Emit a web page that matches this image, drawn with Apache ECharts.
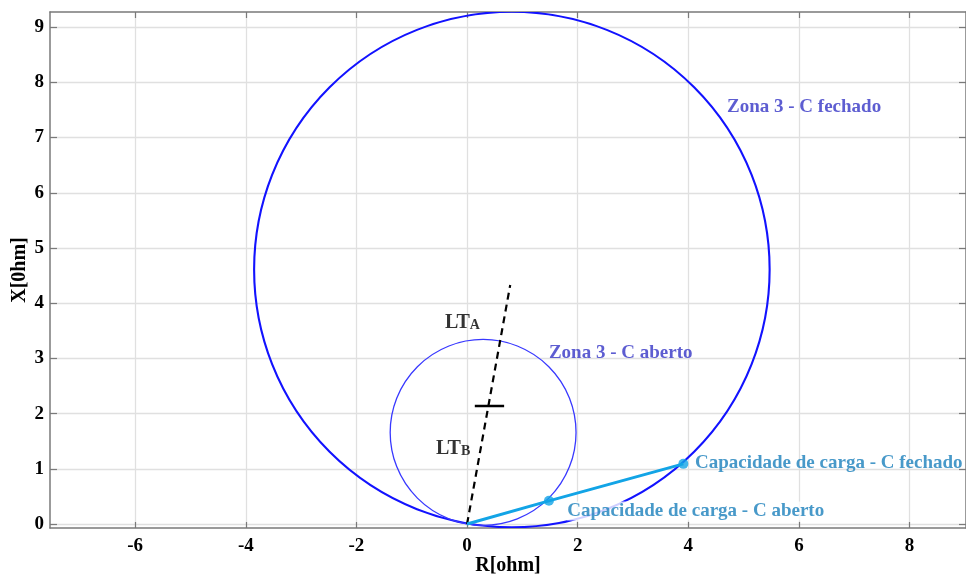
<!DOCTYPE html>
<html>
<head>
<meta charset="utf-8">
<script src="https://cdn.jsdelivr.net/npm/echarts@6/dist/echarts.min.js"></script>
<style>html,body{margin:0;padding:0;background:#fff;}#c{width:966px;height:574px;}</style>
</head>
<body>
<div id="c"></div>
<script>
// ---- data ----
const xTicks = [-6, -4, -2, 0, 2, 4, 6, 8];
const yTicks = [0, 1, 2, 3, 4, 5, 6, 7, 8, 9];
const xRange = [-7.54, 9.02];
const yRange = [-0.072, 9.275];
// circles: [centerR, centerX, radius]
const zonaFechado = [0.81, 4.61, 4.66];
const zonaAberto = [0.29, 1.66, 1.68];
// line LT (dashed) and its split mark
const ltLine = [[0, 0], [0.78, 4.33]];
const ltMark = [[0.14, 2.14], [0.67, 2.14]];
// load capacity line and points
const loadLine = [[0, 0], [1.48, 0.42], [3.91, 1.09]];
const loadPoints = [[1.48, 0.42], [3.91, 1.09]];
// annotations
const zonaLabels = [
  { value: [4.70, 7.55], text: 'Zona 3 - C fechado' },
  { value: [1.48, 3.10], text: 'Zona 3 - C aberto' }
];
const capLabels = [
  { value: [4.12, 1.105], text: 'Capacidade de carga - C fechado', bg: false },
  { value: [1.81, 0.235], text: 'Capacidade de carga - C aberto', bg: true }
];
const ltLabels = [
  { value: [-0.40, 3.64], sub: 'A' },
  { value: [-0.56, 1.36], sub: 'B' }
];

const FONT = "'Liberation Serif', 'Times New Roman', serif";
const axisColor = '#7a7a7a';

function circleSeries(c, color, width) {
  return {
    type: 'custom',
    coordinateSystem: 'cartesian2d',
    xAxisIndex: 0, yAxisIndex: 0,
    z: 3,
    clip: true,
    data: [c],
    renderItem: function (params, api) {
      const p = api.coord([api.value(0), api.value(1)]);
      const r = api.size([api.value(2), 0])[0];
      return {
        type: 'circle',
        shape: { cx: p[0], cy: p[1], r: r },
        style: { fill: 'none', stroke: color, lineWidth: width }
      };
    }
  };
}

const chart = echarts.init(document.getElementById('c'), null, { renderer: 'canvas' });
chart.setOption({
  animation: false,
  backgroundColor: '#fff',
  grid: { left: 50, right: 0, top: 12, bottom: 46, containLabel: false, outerBoundsMode: 'none' },
  xAxis: [{
    type: 'value', min: xRange[0], max: xRange[1],
    name: 'R[ohm]', nameLocation: 'middle', nameGap: 28, nameMoveOverlap: false,
    nameTextStyle: { fontFamily: FONT, fontWeight: 'bold', fontSize: 20, color: '#000' },
    axisLine: { onZero: false, lineStyle: { color: axisColor, width: 1.5 } },
    axisTick: { inside: true, length: 6, customValues: xTicks, lineStyle: { color: axisColor, width: 1.2 } },
    axisLabel: { customValues: xTicks, margin: 9, fontFamily: FONT, fontWeight: 'bold', fontSize: 19, color: '#000' },
    splitLine: { show: true, lineStyle: { color: '#e0e0e0', width: 1.3 } }
  }, {
    type: 'value', min: xRange[0], max: xRange[1], position: 'top',
    axisLine: { onZero: false, lineStyle: { color: axisColor, width: 1.5 } },
    axisTick: { inside: true, length: 6, customValues: xTicks, lineStyle: { color: axisColor, width: 1.2 } },
    axisLabel: { show: false },
    splitLine: { show: false }
  }],
  yAxis: [{
    type: 'value', min: yRange[0], max: yRange[1],
    name: 'X[0hm]', nameLocation: 'middle', nameGap: 20, nameMoveOverlap: false,
    nameTextStyle: { fontFamily: FONT, fontWeight: 'bold', fontSize: 20, color: '#000' },
    axisLine: { show: true, onZero: false, lineStyle: { color: axisColor, width: 1.5 } },
    axisTick: { show: true, inside: true, length: 7, customValues: yTicks, lineStyle: { color: axisColor, width: 1.2 } },
    axisLabel: { customValues: yTicks, margin: 6, fontFamily: FONT, fontWeight: 'bold', fontSize: 19, color: '#000' },
    splitLine: { show: true, lineStyle: { color: '#e0e0e0', width: 1.3 } }
  }, {
    type: 'value', min: yRange[0], max: yRange[1], position: 'right',
    axisLine: { show: true, onZero: false, lineStyle: { color: axisColor, width: 1.5 } },
    axisTick: { show: true, inside: true, length: 7, customValues: yTicks, lineStyle: { color: axisColor, width: 1.2 } },
    axisLabel: { show: false },
    splitLine: { show: false }
  }],
  series: [
    circleSeries(zonaFechado, '#1212ff', 2.1),
    circleSeries(zonaAberto, '#3838ff', 1.3),
    {
      type: 'line', data: ltLine, showSymbol: false, z: 4,
      lineStyle: { color: '#000', width: 2.2, type: [7, 5] }
    },
    {
      type: 'line', data: ltMark, showSymbol: false, z: 4,
      lineStyle: { color: '#000', width: 2.5 }
    },
    {
      type: 'line', data: loadLine, showSymbol: false, z: 5,
      lineStyle: { color: '#12a4e6', width: 3 }
    },
    {
      type: 'scatter', data: loadPoints, symbol: 'circle', symbolSize: 10, z: 6,
      itemStyle: { color: '#12a4e6' }
    },
    {
      type: 'scatter', symbolSize: 0, z: 10,
      data: zonaLabels.map(d => ({
        value: d.value,
        label: {
          show: true, formatter: d.text, position: 'inside', align: 'left', verticalAlign: 'middle',
          fontFamily: FONT, fontWeight: 'bold', fontSize: 19, color: '#3535c6'
        }
      }))
    },
    {
      type: 'scatter', symbolSize: 0, z: 10,
      data: capLabels.map(d => ({
        value: d.value,
        label: {
          show: true, formatter: d.text, position: 'inside', align: 'left', verticalAlign: 'middle',
          fontFamily: FONT, fontWeight: 'bold', fontSize: 19, color: '#1a80bc',
          backgroundColor: d.bg ? '#fff' : 'transparent', padding: [0, 0, 0, 0]
        }
      }))
    },
    {
      type: 'scatter', symbolSize: 0, z: 10,
      data: ltLabels.map(d => ({
        value: d.value,
        label: {
          show: true, formatter: '{a|LT}{s|' + d.sub + '}', position: 'inside', align: 'left', verticalAlign: 'middle',
          rich: {
            a: { fontFamily: FONT, fontWeight: 'bold', fontSize: 20, color: '#000' },
            s: { fontFamily: FONT, fontWeight: 'bold', fontSize: 14, color: '#000', padding: [5, 0, 0, 0] }
          }
        }
      }))
    }
  ]
});
</script>
</body>
</html>
